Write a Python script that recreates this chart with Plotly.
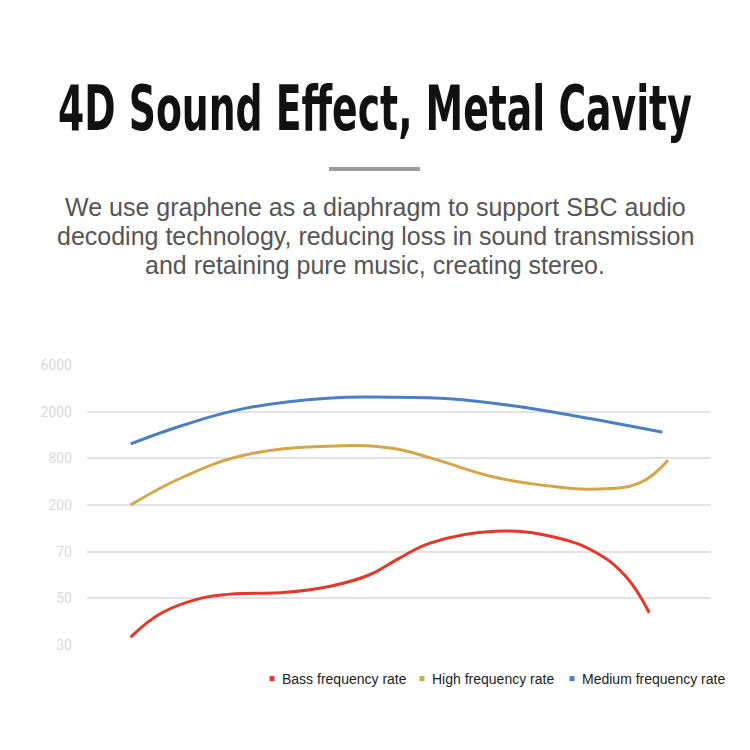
import plotly.graph_objects as go

# y-axis is an ordinal scale: tick index -> label
tick_labels = ["30", "50", "70", "200", "800", "2000", "6000"]
tick_pos = list(range(len(tick_labels)))

# x positions (percent of plot width) and y values (position on the ordinal scale)
bass_x = [7, 12, 18.5, 23, 31.9, 39, 45.2, 49.8, 55.1, 65.4, 75, 81.7, 86.4, 90.1]
bass_y = [0.17, 0.69, 1.01, 1.09, 1.13, 1.26, 1.5, 1.84, 2.19, 2.44, 2.31, 1.97, 1.46, 0.69]

high_x = [7, 15.4, 25.3, 38.6, 48.6, 55.3, 65.2, 75.2, 80.6, 88.5, 93.1]
high_y = [3.0, 3.6, 4.07, 4.26, 4.22, 4.0, 3.6, 3.39, 3.34, 3.47, 3.96]

mid_x = [7, 15.4, 25.3, 38.6, 48.6, 58.6, 68.6, 78.5, 92.2]
mid_y = [4.31, 4.71, 5.07, 5.29, 5.31, 5.27, 5.12, 4.9, 4.56]

series = [
    ("Bass frequency rate", bass_x, bass_y, "#e5382b"),
    ("High frequency rate", high_x, high_y, "#d3a748"),
    ("Medium frequency rate", mid_x, mid_y, "#4a7fc3"),
]

title_text = "4D Sound Effect, Metal Cavity"
subtitle_lines = [
    "We use graphene as a diaphragm to support SBC audio",
    "decoding technology, reducing loss in sound transmission",
    "and retaining pure music, creating stereo.",
]
subtitle_centers_px = [207, 236, 265]

# plot area in page pixels: x 87..711, y 364..646 (page has 8px body margin)
PX_L, PX_R, PX_T, PX_B = 87, 711, 364, 646


def py(p):
    return 1 + (PX_T - p) / (PX_B - PX_T)


def pxx(p):
    return (p - PX_L) / (PX_R - PX_L)


fig = go.Figure()
for name, xs, ys, col in series:
    fig.add_trace(go.Scatter(x=xs, y=ys, mode="lines", name=name,
                             line=dict(color=col, width=3, shape="spline", smoothing=1.2),
                             showlegend=False, hoverinfo="skip"))
for name, xs, ys, col in series:
    fig.add_trace(go.Scatter(x=[None], y=[None], mode="markers", name=name,
                             marker=dict(color=col, size=5, symbol="square")))

annotations = [
    dict(text=title_text, xref="paper", yref="paper", x=pxx(375), y=py(108),
         xanchor="center", yanchor="middle", showarrow=False,
         font=dict(family="DejaVu Sans, sans-serif", size=63, color="#111111", weight="bold")),
]
for line, cy in zip(subtitle_lines, subtitle_centers_px):
    annotations.append(dict(text=line, xref="paper", yref="paper", x=pxx(375), y=py(cy),
                            xanchor="center", yanchor="middle", showarrow=False,
                            font=dict(family="Liberation Sans, Arial, sans-serif", size=25, color="#555555")))

fig.update_layout(
    width=750, height=750,
    margin=dict(l=PX_L - 8, r=750 - (PX_R - 8), t=PX_T - 8, b=750 - (PX_B - 8)),
    paper_bgcolor="white", plot_bgcolor="white",
    xaxis=dict(range=[0, 100], visible=False, fixedrange=True),
    yaxis=dict(range=[-0.0214, 6.0214], tickvals=tick_pos, ticktext=tick_labels,
               showgrid=True, gridcolor="#e3e3e3", gridwidth=2, zeroline=False,
               showline=False, ticks="", ticklabelstandoff=14,
               tickfont=dict(family="Roboto, Liberation Sans, sans-serif", size=14, color="#d9d9d9")),
    legend=dict(orientation="h", xanchor="left", x=pxx(242), yanchor="middle", y=py(679),
                font=dict(family="Liberation Sans, Arial, sans-serif", size=14, color="#222222"),
                itemwidth=30, tracegroupgap=0, bgcolor="rgba(0,0,0,0)",
                entrywidth=105, entrywidthmode="pixels"),
    showlegend=True,
    annotations=annotations,
    shapes=[
        dict(type="rect", xref="paper", yref="paper",
             x0=pxx(329), x1=pxx(420), y0=py(171), y1=py(167),
             fillcolor="#9a9a9a", line=dict(width=0)),
    ],
)

post = """
var gd = document.getElementById('{plot_id}');
function tidy() {
  var t = gd.querySelector('.annotation-text');
  if (t) {
    t.removeAttribute('transform');
    var b = t.getBBox();
    var cx = b.x + b.width / 2, cy = b.y + b.height / 2;
    var sx = 634 / b.width;
    t.setAttribute('transform', 'translate(' + cx + ',' + cy + ') scale(' + sx + ',1) translate(' + (-cx) + ',' + (-cy) + ')');
  }
  gd.querySelectorAll('.legend [clip-path]').forEach(function(el) { el.removeAttribute('clip-path'); });
  gd.querySelectorAll('.legend .legendpoints').forEach(function(el) {
    if (el.__shifted) return;
    el.__shifted = true;
    el.setAttribute('transform', 'translate(10,0) ' + (el.getAttribute('transform') || ''));
  });
}
tidy();
gd.on && gd.on('plotly_afterplot', tidy);
"""

fig.write_html("out.html", post_script=post)
